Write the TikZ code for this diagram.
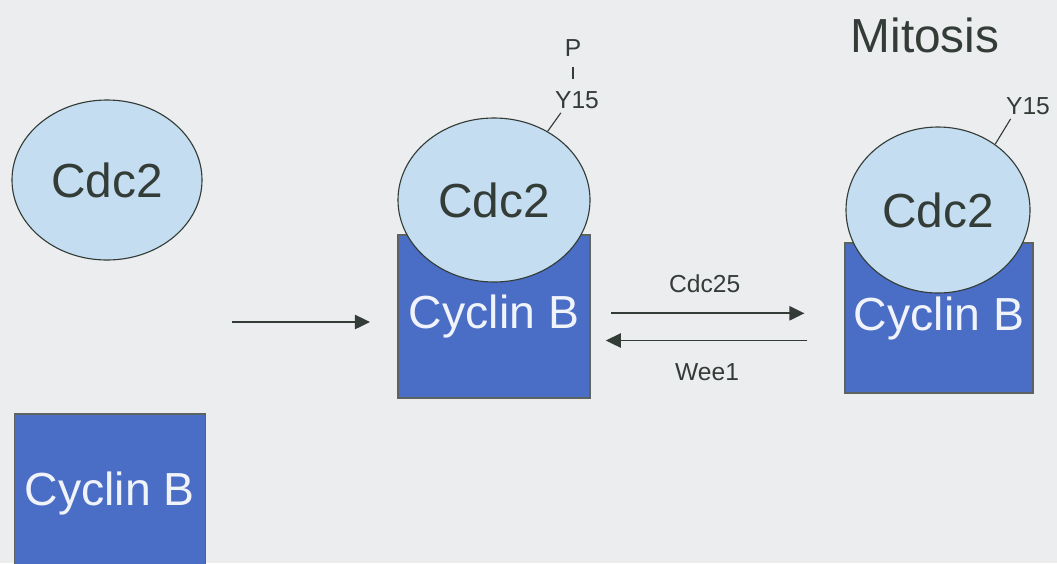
\documentclass[tikz,border=0pt]{standalone}
\usepackage{fontspec}
\setmainfont{Liberation Sans}
\usetikzlibrary{shapes.geometric,arrows.meta,positioning}
\definecolor{bgray}{HTML}{ECEDEF}
\definecolor{cdcblue}{HTML}{C4DDF0}
\definecolor{cycblue}{HTML}{4A6DC5}
\definecolor{inkgray}{HTML}{343C37}

\begin{document}
\begin{tikzpicture}[
  cdc/.style = {draw = inkgray, line width = 0.8pt, fill = cdcblue, shape = ellipse, inner sep = 0pt, text = inkgray, font = \fontsize{34}{34}\selectfont},
  cyc/.style = {draw = inkgray!80, line width = 0.8pt, fill = cycblue, shape = rectangle, inner sep = 0pt, text = white!92!cycblue, font = \fontsize{33}{33}\selectfont},
  site/.style = {inner sep = 0pt, text = inkgray, font = \fontsize{17.5}{17.5}\selectfont},
  arr/.style = {draw = inkgray, line width = 1.2pt, -{Triangle[length = 3.8mm, width = 3.6mm]}}
]
\fill[bgray] (0,0) rectangle (26.425,-14.075);
\useasboundingbox (0,0) rectangle (26.425,-14.075);

\node[cdc, minimum width = 4.75cm, minimum height = 4cm] (cdc2a) at (2.675,-4.5) {Cdc2};
\node[cyc, minimum width = 4.775cm, minimum height = 3.95cm] (cycba) at (2.74,-12.325) {Cyclin B};

\node[cyc, minimum width = 4.8cm, minimum height = 4.075cm] (cycbb) at (12.35,-7.9125) {Cyclin B};
\node[cdc, minimum width = 4.8cm, minimum height = 4.1cm] (cdc2b) at (12.35,-5.0) {Cdc2};
\node[site] (y15b) at (14.425,-2.5) {Y15};
\node[site, above = 0.85cm of y15b, xshift = -0.1cm] (pb) {P};

\node[cyc, minimum width = 4.7cm, minimum height = 3.75cm] (cycbc) at (23.475,-7.95) {Cyclin B};
\node[cdc, minimum width = 4.6cm, minimum height = 4.15cm] (cdc2c) at (23.45,-5.25) {Cdc2};
\node[site] (y15c) at (25.7,-2.65) {Y15};
\node[site, font = \fontsize{34}{34}\selectfont] (mitosis) at (23.125,-0.875) {Mitosis};

\coordinate (bindfrom) at (5.8,-8.05);
\coordinate (bindto) at (9.25,-8.05);
\draw[arr] (bindfrom) -- (bindto);

\coordinate (fwd) at ([shift = {(0.52cm,0.08cm)}]cycbb.east);
\coordinate (rev) at ([shift = {(0.38cm,-0.6cm)}]cycbb.east);
\draw[arr, shorten >= 1cm] (fwd) -- (fwd -| cycbc.west)
  node[site, midway, above = 0.5cm, xshift = -0.58cm] (cdc25) {Cdc25};
\draw[arr, shorten <= 0.93cm] (rev -| cycbc.west) -- (rev)
  node[site, midway, below = 0.55cm, xshift = -0.45cm] (wee1) {Wee1};

\begin{scope}[draw = inkgray, line width = 0.8pt]
\draw (cdc2b.52) -- ([xshift = 0.15cm, yshift = -0.1cm]y15b.south west);
\draw (cdc2c.49) -- ([xshift = 0.12cm, yshift = -0.1cm]y15c.south west);
\draw[shorten <= 0.25cm, shorten >= 0.3cm] (pb.south) -- (pb.south |- y15b.north);
\end{scope}
\end{tikzpicture}
\end{document}
